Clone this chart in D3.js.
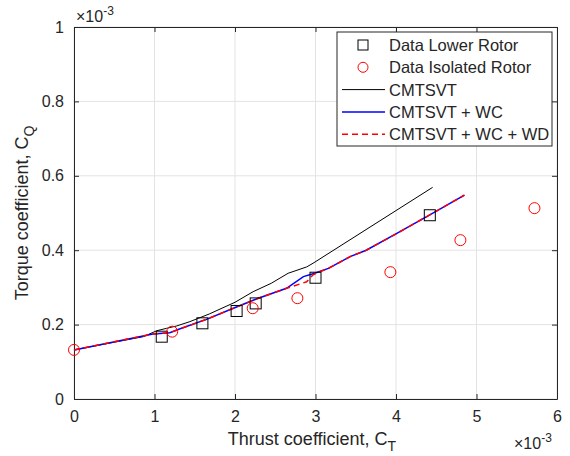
<!DOCTYPE html>
<html>
<head>
<meta charset="utf-8">
<script src="https://cdn.jsdelivr.net/npm/d3@7"></script>
<style>
  body { margin: 0; background: #fff; }
  svg text { font-family: "Liberation Sans", Arial, sans-serif; fill: #262626; }
</style>
</head>
<body>
<svg width="570" height="456"></svg>
<script>
// values in units of 1e-3
const lowerCT = [1.09, 1.595, 2.02, 2.257, 3.0, 4.42];
const lowerCQ = [0.1675, 0.2035, 0.2366, 0.257, 0.326, 0.494];

const isoCT = [0, 1.22, 2.22, 2.775, 3.93, 4.80, 5.72];
const isoCQ = [0.132, 0.181, 0.244, 0.271, 0.341, 0.427, 0.513];

const cmtCT = [0, 0.86, 1.03, 1.15, 1.27, 1.44, 1.68, 2.0, 2.225, 2.45, 2.66, 2.89, 2.97, 4.455];
const cmtCQ = [0.132, 0.1675, 0.1836, 0.190, 0.196, 0.208, 0.2285, 0.26, 0.2885, 0.311, 0.338, 0.355, 0.365, 0.569];

const wcCT = [0, 0.98, 1.19, 1.31, 1.645, 1.98, 2.29, 2.64, 2.85, 2.99, 3.16, 3.43, 3.63, 4.01, 4.42, 4.85];
const wcCQ = [0.132, 0.1747, 0.178, 0.188, 0.214, 0.244, 0.271, 0.2975, 0.329, 0.338, 0.351, 0.3826, 0.40, 0.445, 0.495, 0.548];

const wdCT = [0, 0.98, 1.19, 1.31, 1.645, 1.98, 2.29, 2.64, 2.89, 2.97, 3.05, 3.16, 3.43, 3.63, 4.01, 4.42, 4.85];
const wdCQ = [0.132, 0.1747, 0.178, 0.188, 0.214, 0.244, 0.271, 0.2975, 0.315, 0.334, 0.342, 0.351, 0.3826, 0.40, 0.445, 0.495, 0.548];

const xTicks = [0, 1, 2, 3, 4, 5, 6];
const yTicks = [0, 0.2, 0.4, 0.6, 0.8, 1];
const legendLabels = ['Data Lower Rotor', 'Data Isolated Rotor', 'CMTSVT', 'CMTSVT + WC', 'CMTSVT + WC + WD'];

const svg = d3.select('svg');
const margin = {top: 27, right: 13, bottom: 57, left: 74};
const width = +svg.attr('width');
const height = +svg.attr('height');
const innerWidth = width - margin.left - margin.right;
const innerHeight = height - margin.top - margin.bottom;

const xScale = d3.scaleLinear().domain([0, 6]).range([0, innerWidth]);
const yScale = d3.scaleLinear().domain([0, 1]).range([innerHeight, 0]);

const g = svg.append('g').attr('transform', `translate(${margin.left},${margin.top})`);

// grid
g.append('g').selectAll('line').data(xTicks).enter().append('line')
  .attr('x1', d => xScale(d)).attr('x2', d => xScale(d))
  .attr('y1', 0).attr('y2', innerHeight)
  .attr('stroke', '#e3e3e3').attr('stroke-width', 1);
g.append('g').selectAll('line').data(yTicks).enter().append('line')
  .attr('y1', d => yScale(d)).attr('y2', d => yScale(d))
  .attr('x1', 0).attr('x2', innerWidth)
  .attr('stroke', '#e3e3e3').attr('stroke-width', 1);

// axes (ticks inside, box)
const fmtY = d => d === 0 ? '0' : d === 1 ? '1' : d3.format('.1f')(d);
const xAxis = d3.axisBottom(xScale).tickValues(xTicks).tickFormat(d3.format('d'))
  .tickSizeInner(-5).tickSizeOuter(0).tickPadding(12);
const yAxis = d3.axisLeft(yScale).tickValues(yTicks).tickFormat(fmtY)
  .tickSizeInner(-5).tickSizeOuter(0).tickPadding(10);
const xTop = d3.axisTop(xScale).tickValues(xTicks).tickSizeInner(-5).tickSizeOuter(0);
const yRight = d3.axisRight(yScale).tickValues(yTicks).tickSizeInner(-5).tickSizeOuter(0);

const styleAxis = sel => {
  sel.attr('font-family', null).attr('font-size', null);
  sel.selectAll('path').attr('stroke', '#262626');
  sel.selectAll('line').attr('stroke', '#262626');
  sel.selectAll('text').attr('font-size', 16).attr('fill', '#262626');
};
g.append('g').attr('transform', `translate(0,${innerHeight})`).call(xAxis).call(styleAxis);
g.append('g').call(yAxis).call(styleAxis);
g.append('g').call(xTop).call(styleAxis).selectAll('text').remove();
g.append('g').attr('transform', `translate(${innerWidth},0)`).call(yRight).call(styleAxis).selectAll('text').remove();

// lines
const toPts = (xs, ys) => xs.map((x, i) => [x, ys[i]]);
const line = d3.line().x(d => xScale(d[0])).y(d => yScale(d[1]));

g.append('path').datum(toPts(cmtCT, cmtCQ)).attr('d', line)
  .attr('fill', 'none').attr('stroke', '#000').attr('stroke-width', 1);
g.append('path').datum(toPts(wcCT, wcCQ)).attr('d', line)
  .attr('fill', 'none').attr('stroke', '#0000ff').attr('stroke-width', 1.5);
g.append('path').datum(toPts(wdCT, wdCQ)).attr('d', line)
  .attr('fill', 'none').attr('stroke', '#ff0000').attr('stroke-width', 1.5)
  .attr('stroke-dasharray', '6,4');

// markers
g.append('g').selectAll('rect').data(toPts(lowerCT, lowerCQ)).enter().append('rect')
  .attr('x', d => xScale(d[0]) - 5.5).attr('y', d => yScale(d[1]) - 5.5)
  .attr('width', 11).attr('height', 11)
  .attr('fill', 'none').attr('stroke', '#000').attr('stroke-width', 1);
g.append('g').selectAll('circle').data(toPts(isoCT, isoCQ)).enter().append('circle')
  .attr('cx', d => xScale(d[0])).attr('cy', d => yScale(d[1])).attr('r', 5.5)
  .attr('fill', 'none').attr('stroke', '#ff0000').attr('stroke-width', 1);

// axis labels
const xl = svg.append('text').attr('x', 312).attr('y', 445).attr('text-anchor', 'middle').attr('font-size', 18);
xl.append('tspan').text('Thrust coefficient, C');
xl.append('tspan').attr('dy', 6).attr('font-size', 14).text('T');

const yl = svg.append('text').attr('transform', 'translate(28,213) rotate(-90)').attr('text-anchor', 'middle').attr('font-size', 18);
yl.append('tspan').text('Torque coefficient, C');
yl.append('tspan').attr('dy', 6).attr('font-size', 14).text('Q');

// exponents
const ex1 = svg.append('text').attr('x', 76).attr('y', 22).attr('font-size', 16);
ex1.append('tspan').text('\u00d710');
ex1.append('tspan').attr('dy', -7).attr('font-size', 12).text('-3');
const ex2 = svg.append('text').attr('x', 514).attr('y', 449).attr('font-size', 16);
ex2.append('tspan').text('\u00d710');
ex2.append('tspan').attr('dy', -7).attr('font-size', 12).text('-3');

// legend
const lg = svg.append('g').attr('transform', 'translate(337,32)');
lg.append('rect').attr('width', 215).attr('height', 114)
  .attr('fill', '#fff').attr('stroke', '#262626').attr('stroke-width', 1);
const rowY = i => 13 + i * 22.3;
const items = lg.selectAll('g.item').data(legendLabels).enter().append('g')
  .attr('transform', (d, i) => `translate(0,${rowY(i)})`);
items.append('text').attr('x', 52).attr('y', 6).attr('font-size', 16.5).text(d => d);
lg.append('rect').attr('x', 21).attr('y', rowY(0) - 5).attr('width', 10).attr('height', 10)
  .attr('fill', 'none').attr('stroke', '#000');
lg.append('circle').attr('cx', 26).attr('cy', rowY(1)).attr('r', 5)
  .attr('fill', 'none').attr('stroke', '#ff0000');
lg.append('line').attr('x1', 5).attr('x2', 48).attr('y1', rowY(2)).attr('y2', rowY(2))
  .attr('stroke', '#000').attr('stroke-width', 1);
lg.append('line').attr('x1', 5).attr('x2', 48).attr('y1', rowY(3)).attr('y2', rowY(3))
  .attr('stroke', '#0000ff').attr('stroke-width', 1.5);
lg.append('line').attr('x1', 5).attr('x2', 48).attr('y1', rowY(4)).attr('y2', rowY(4))
  .attr('stroke', '#ff0000').attr('stroke-width', 1.5).attr('stroke-dasharray', '6,4');
</script>
</body>
</html>
